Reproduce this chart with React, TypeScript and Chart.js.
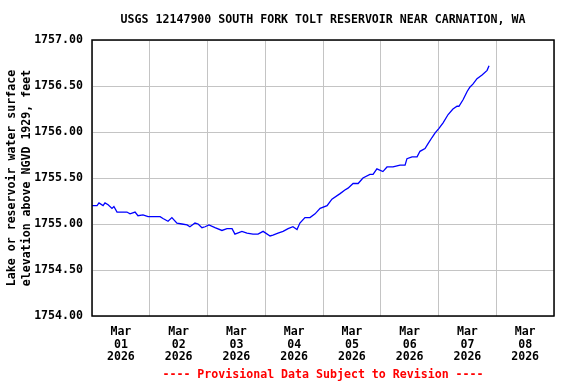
import React, { useEffect, useRef } from "react";
import { Chart, registerables } from "chart.js";

Chart.register(...registerables);

const TITLE = "USGS 12147900 SOUTH FORK TOLT RESERVOIR NEAR CARNATION, WA";
const Y_TITLE_1 = "Lake or reservoir water surface";
const Y_TITLE_2 = "elevation above NGVD 1929, feet";
const FOOTER = "---- Provisional Data Subject to Revision ----";

const MONTH = "Mar";
const YEAR = "2026";
const DAY_LABELS = ["01", "02", "03", "04", "05", "06", "07", "08"];

// hours since 2026-03-01 00:00
const hours = [
  0.0, 2.1, 2.9, 4.6, 5.4, 6.7, 8.3, 9.1, 10.4, 14.5,
  15.8, 17.9, 19.1, 21.2, 23.3, 28.3, 29.5, 31.6, 33.2, 35.3,
  37.4, 39.5, 40.7, 42.8, 44.1, 45.7, 47.0, 48.6, 51.1, 54.0,
  56.1, 58.2, 59.4, 62.3, 64.4, 66.9, 69.0, 71.1, 74.0, 75.2,
  77.3, 79.4, 81.5, 83.5, 85.2, 86.4, 88.5, 90.6, 92.7, 94.8,
  97.7, 99.7, 103.1, 105.1, 106.4, 108.5, 110.6, 112.6, 115.5, 116.8,
  118.4, 120.9, 122.6, 125.1, 128.0, 130.1, 130.9, 133.0, 135.1, 136.3,
  138.4, 139.6, 141.3, 142.6, 144.2, 145.9, 148.0, 150.0, 151.7, 152.5,
  154.2, 155.9, 157.1, 158.3, 160.0, 162.1, 164.2, 165.0,
];

// water surface elevation, feet
const levels = [
  1755.20, 1755.20, 1755.23, 1755.20, 1755.23, 1755.21, 1755.17, 1755.19, 1755.13, 1755.13,
  1755.11, 1755.13, 1755.09, 1755.10, 1755.08, 1755.08, 1755.06, 1755.03, 1755.07, 1755.01,
  1755.00, 1754.99, 1754.97, 1755.01, 1755.00, 1754.96, 1754.97, 1754.99, 1754.96, 1754.93,
  1754.95, 1754.95, 1754.89, 1754.92, 1754.90, 1754.89, 1754.89, 1754.92, 1754.87, 1754.88,
  1754.90, 1754.92, 1754.95, 1754.97, 1754.94, 1755.01, 1755.07, 1755.07, 1755.11, 1755.17,
  1755.20, 1755.27, 1755.33, 1755.37, 1755.39, 1755.44, 1755.44, 1755.50, 1755.54, 1755.54,
  1755.60, 1755.57, 1755.62, 1755.62, 1755.64, 1755.64, 1755.71, 1755.73, 1755.73, 1755.79,
  1755.82, 1755.87, 1755.94, 1755.99, 1756.04, 1756.10, 1756.19, 1756.25, 1756.28, 1756.28,
  1756.35, 1756.44, 1756.49, 1756.52, 1756.58, 1756.62, 1756.67, 1756.72,
];

const Y_MIN = 1754;
const Y_MAX = 1757;
const Y_STEP = 0.5;
const X_MAX_HOURS = 192;

const FONT_FAMILY = "'DejaVu Sans Mono', 'Liberation Mono', monospace";
const FONT_SIZE = 11.6;
const GRID_COLOR = "#c4c4c4";

const textPlugin = {
  id: "usgsText",
  afterDraw(chart: any) {
    const { ctx, chartArea } = chart;
    const cx = (chartArea.left + chartArea.right) / 2;
    const cy = (chartArea.top + chartArea.bottom) / 2;
    ctx.save();
    // frame
    ctx.strokeStyle = "#000000";
    ctx.lineWidth = 1.5;
    ctx.strokeRect(chartArea.left, chartArea.top, chartArea.right - chartArea.left, chartArea.bottom - chartArea.top);

    ctx.font = `bold ${FONT_SIZE}px ${FONT_FAMILY}`;
    ctx.textAlign = "center";
    ctx.textBaseline = "middle";
    ctx.fillStyle = "#000000";
    ctx.fillText(TITLE, cx, 20);

    ctx.fillStyle = "#ff0000";
    ctx.fillText(FOOTER, cx, 375);

    ctx.fillStyle = "#000000";
    ctx.translate(0, cy);
    ctx.rotate(-Math.PI / 2);
    ctx.fillText(Y_TITLE_1, 0, 12);
    ctx.fillText(Y_TITLE_2, 0, 27);
    ctx.restore();
  },
};

export default function App() {
  const ref = useRef<HTMLCanvasElement | null>(null);

  useEffect(() => {
    if (!ref.current) return;
    const data = hours.map((h, i) => ({ x: h, y: levels[i] }));
    const chart = new Chart(ref.current, {
      type: "line",
      data: {
        datasets: [
          {
            data,
            borderColor: "#0000ff",
            borderWidth: 1.3,
            pointRadius: 0,
            tension: 0,
            fill: false,
          },
        ],
      },
      options: {
        animation: false,
        responsive: false,
        devicePixelRatio: 1,
        layout: { padding: { left: 0, top: 40, right: 22, bottom: 0 } },
        plugins: {
          legend: { display: false },
          title: { display: false },
          tooltip: { enabled: false },
        },
        scales: {
          x: {
            type: "linear",
            min: 0,
            max: X_MAX_HOURS,
            afterFit: (s: any) => {
              s.height = 68;
            },
            border: { display: false },
            grid: {
              drawTicks: false,
              color: (c: any) =>
                c.tick && c.tick.value % 24 === 0 ? GRID_COLOR : "rgba(0,0,0,0)",
              lineWidth: 1,
            },
            ticks: {
              stepSize: 12,
              autoSkip: false,
              maxRotation: 0,
              minRotation: 0,
              padding: 9,
              color: "#000000",
              font: { family: FONT_FAMILY, size: FONT_SIZE, weight: "bold", lineHeight: 1.12 },
              callback: (v: any) => {
                const n = Number(v);
                if (n % 24 === 12) {
                  const d = Math.floor(n / 24);
                  return [MONTH, DAY_LABELS[d], YEAR];
                }
                return "";
              },
            },
          },
          y: {
            type: "linear",
            min: Y_MIN,
            max: Y_MAX,
            afterFit: (s: any) => {
              s.width = 92;
            },
            border: { display: false },
            grid: { drawTicks: false, color: GRID_COLOR, lineWidth: 1 },
            ticks: {
              stepSize: Y_STEP,
              padding: 9,
              color: "#000000",
              font: { family: FONT_FAMILY, size: FONT_SIZE, weight: "bold" },
              callback: (v: any) => Number(v).toFixed(2),
            },
          },
        },
      },
      plugins: [textPlugin],
    } as any);
    return () => chart.destroy();
  }, []);

  return (
    <div style={{ position: "absolute", left: 0, top: 0, width: 576, height: 384, background: "#ffffff" }}>
      <canvas ref={ref} width={576} height={384} style={{ width: 576, height: 384, display: "block" }} />
    </div>
  );
}
